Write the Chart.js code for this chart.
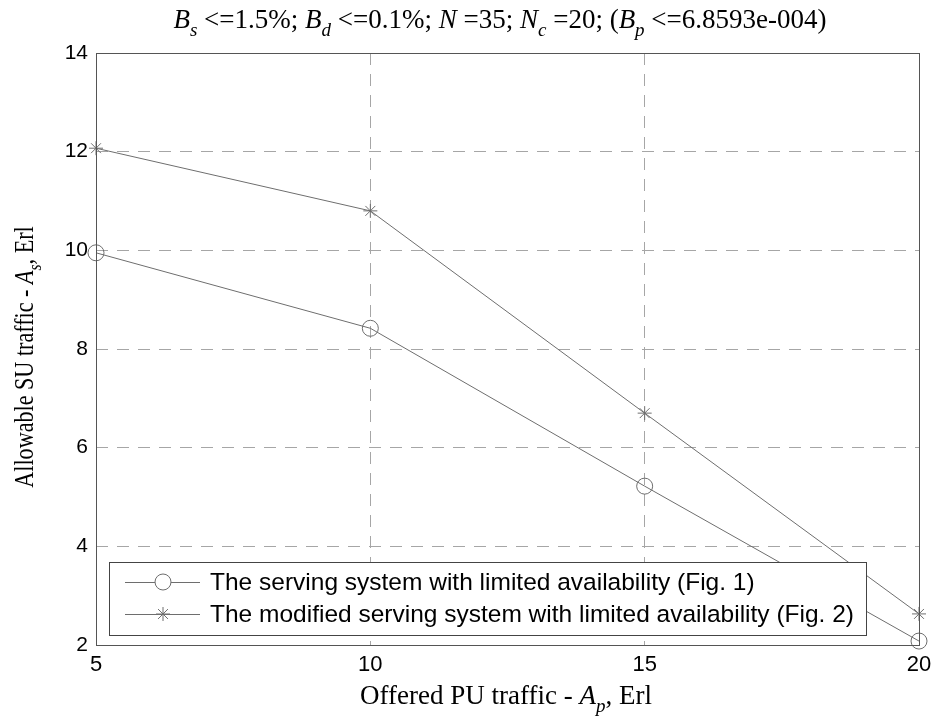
<!DOCTYPE html>
<html><head><meta charset="utf-8">
<script src="https://cdn.jsdelivr.net/npm/chart.js@4/dist/chart.umd.min.js"></script>
<style>html,body{margin:0;padding:0;background:#fff}canvas{display:block}</style>
</head><body>
<canvas id="c" width="935" height="717"></canvas>
<script>
const apTraffic = [5, 10, 15, 20];
const limitedAvail = [9.95, 8.42, 5.22, 2.08];
const modifiedAvail = [12.07, 10.80, 6.70, 2.63];
const seriesLabels = [
  'The serving system with limited availability (Fig. 1)',
  'The modified serving system with limited availability (Fig. 2)'
];
const titleParts = [
  ['B','i'],['s','is'],[' <=1.5%; ',''],['B','i'],['d','is'],[' <=0.1%; ',''],
  ['N','i'],[' =35; ',''],['N','i'],['c','is'],[' =20; (',''],['B','i'],['p','is'],[' <=6.8593e-004)','']
];
const xTitleParts = [['Offered PU traffic - ',''],['A','i'],['p','is'],[', Erl','']];
const yTitleParts = [['Allowable SU traffic - ',''],['A','i'],['s','is'],[', Erl','']];

const SERIF = '"Liberation Serif","Times New Roman",serif';
const SANS = '"Liberation Sans",Arial,sans-serif';
const LINE = '#6e6e6e';

function setFont(ctx, f, size){
  const sub = f.includes('s');
  ctx.font = (f.includes('i') ? 'italic ' : '') + (sub ? Math.round(size*0.72) : size) + 'px ' + SERIF;
  return sub;
}
function richWidth(ctx, parts, size){
  let w = 0;
  for (const [t, f] of parts){ setFont(ctx, f, size); w += ctx.measureText(t).width; }
  return w;
}
function drawRich(ctx, parts, cx, y, size){
  const w = richWidth(ctx, parts, size);
  let x = cx - w/2;
  ctx.textAlign = 'left'; ctx.textBaseline = 'alphabetic'; ctx.fillStyle = '#000';
  for (const [t, f] of parts){
    const sub = setFont(ctx, f, size);
    ctx.fillText(t, x, sub ? y + size*0.3 : y);
    x += ctx.measureText(t).width;
  }
}

const decor = {
  id: 'decor',
  afterDraw(chart){
    const ctx = chart.ctx, a = chart.chartArea;
    ctx.save();
    ctx.strokeStyle = '#555'; ctx.lineWidth = 1; ctx.setLineDash([]);
    ctx.strokeRect(a.left + 0.5, a.top + 0.5, a.right - a.left, a.bottom - a.top);
    drawRich(ctx, titleParts, 500, 28, 27);
    drawRich(ctx, xTitleParts, 506, 704, 27);
    ctx.save();
    ctx.translate(33, 357);
    ctx.rotate(-Math.PI/2);
    ctx.scale(0.82, 1);
    drawRich(ctx, yTitleParts, 0, 0, 27);
    ctx.restore();
    // legend
    const lx = 109, ly = 562, lw = 757, lh = 73;
    ctx.fillStyle = '#fff';
    ctx.fillRect(lx, ly, lw, lh);
    ctx.strokeStyle = '#444';
    ctx.strokeRect(lx + 0.5, ly + 0.5, lw, lh);
    const rows = [582, 614];
    chart.data.datasets.forEach((ds, i) => {
      const y = rows[i];
      ctx.strokeStyle = LINE; ctx.lineWidth = 1;
      ctx.beginPath(); ctx.moveTo(125, y + 0.5); ctx.lineTo(200, y + 0.5); ctx.stroke();
      Chart.helpers.drawPoint(ctx, {pointStyle: ds.pointStyle, radius: ds.pointRadius, borderWidth: 1}, 163, y);
      ctx.fillStyle = '#000';
      ctx.font = '24.5px ' + SANS; ctx.textAlign = 'left'; ctx.textBaseline = 'middle';
      ctx.fillText(ds.label, 210, y + 1);
    });
    ctx.restore();
  }
};

new Chart(document.getElementById('c'), {
  type: 'line',
  data: {
    datasets: [
      { label: seriesLabels[0], data: apTraffic.map((x, i) => ({x, y: limitedAvail[i]})),
        borderColor: LINE, backgroundColor: 'rgba(0,0,0,0)', borderWidth: 1,
        pointStyle: 'circle', pointRadius: 8, pointBorderColor: LINE, pointBackgroundColor: 'rgba(0,0,0,0)',
        pointBorderWidth: 1, clip: false, tension: 0 },
      { label: seriesLabels[1], data: apTraffic.map((x, i) => ({x, y: modifiedAvail[i]})),
        borderColor: LINE, backgroundColor: 'rgba(0,0,0,0)', borderWidth: 1,
        pointStyle: 'star', pointRadius: 7, pointBorderColor: LINE, pointBackgroundColor: 'rgba(0,0,0,0)',
        pointBorderWidth: 1, clip: false, tension: 0 }
    ]
  },
  options: {
    responsive: false, animation: false, devicePixelRatio: 1,
    layout: { padding: { left: 0, top: 53, right: 16, bottom: 0 } },
    plugins: { legend: { display: false }, title: { display: false }, tooltip: { enabled: false } },
    scales: {
      x: {
        type: 'linear', min: 5, max: 20,
        afterFit: s => { s.height = 72; s.paddingLeft = 0; s.paddingRight = 0; },
        ticks: { stepSize: 5, color: '#000', font: { family: SANS, size: 22 }, padding: 7, maxRotation: 0 },
        grid: { drawTicks: false, color: c => (c.tick && (c.tick.value === 5 || c.tick.value === 20)) ? 'rgba(0,0,0,0)' : '#a6a6a6' },
        border: { display: false, dash: [12, 9] }
      },
      y: {
        min: 2, max: 14,
        afterFit: s => { s.width = 96; s.paddingTop = 0; s.paddingBottom = 0; },
        ticks: { stepSize: 2, color: '#000', font: { family: SANS, size: 21 }, padding: 8 },
        grid: { drawTicks: false, color: c => (c.tick && (c.tick.value === 2 || c.tick.value === 14)) ? 'rgba(0,0,0,0)' : '#a6a6a6' },
        border: { display: false, dash: [12, 9] }
      }
    }
  },
  plugins: [decor]
});
</script>
</body></html>
